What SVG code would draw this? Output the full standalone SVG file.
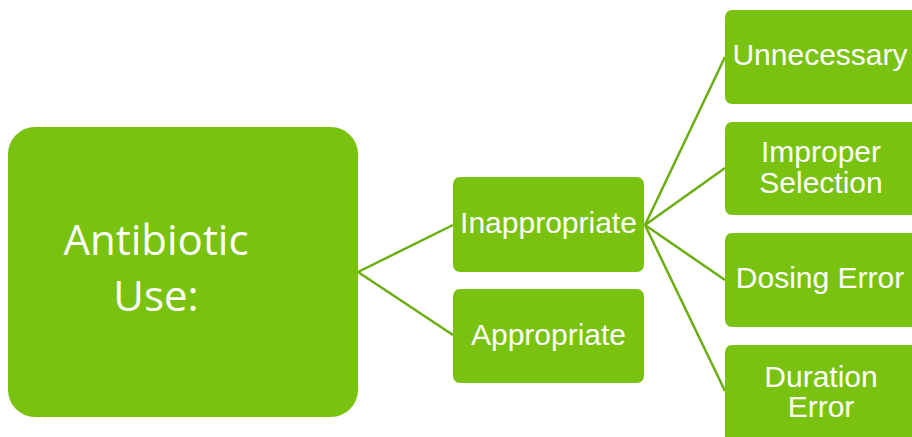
<svg xmlns="http://www.w3.org/2000/svg" width="912" height="437" viewBox="0 0 912 437">
<style>
.box{fill:#79C20F;}
.lbl{font-family:"Liberation Sans",Arial,sans-serif;font-size:30px;fill:#ffffff;text-anchor:middle;}
.main{font-family:"Open Sans","Noto Sans",sans-serif;font-size:42px;fill:#ffffff;text-anchor:middle;}
.conn{stroke:#6AAE12;stroke-width:2.5;fill:none;}
</style>
<rect width="912" height="437" fill="#ffffff"/>
<g id="connectors">
<line class="conn" x1="358" y1="272" x2="453" y2="225"/>
<line class="conn" x1="358" y1="272" x2="453" y2="335"/>
<line class="conn" x1="645" y1="225" x2="725" y2="57"/>
<line class="conn" x1="645" y1="225" x2="725" y2="168"/>
<line class="conn" x1="645" y1="225" x2="725" y2="280"/>
<line class="conn" x1="645" y1="225" x2="725" y2="391"/>
</g>
<g id="antibiotic-use">
<rect class="box" x="8" y="127" width="350" height="290" rx="27"/>
<text class="main" x="156" y="255">Antibiotic</text>
<text class="main" x="156" y="311">Use:</text>
</g>
<g id="inappropriate">
<rect class="box" x="453" y="177" width="191" height="95" rx="7"/>
<text class="lbl" x="548.5" y="233">Inappropriate</text>
</g>
<g id="appropriate">
<rect class="box" x="453" y="289" width="191" height="94" rx="7"/>
<text class="lbl" x="548.5" y="345">Appropriate</text>
</g>
<g id="unnecessary">
<rect class="box" x="725" y="10" width="195" height="94" rx="7"/>
<text class="lbl" x="820" y="65">Unnecessary</text>
</g>
<g id="improper-selection">
<rect class="box" x="725" y="122" width="195" height="93" rx="7"/>
<text class="lbl" x="821" y="162">Improper</text>
<text class="lbl" x="821" y="193">Selection</text>
</g>
<g id="dosing-error">
<rect class="box" x="725" y="233" width="195" height="94" rx="7"/>
<text class="lbl" x="820" y="288">Dosing Error</text>
</g>
<g id="duration-error">
<rect class="box" x="725" y="345" width="195" height="100" rx="7"/>
<text class="lbl" x="821" y="387">Duration</text>
<text class="lbl" x="821" y="417">Error</text>
</g>
</svg>
